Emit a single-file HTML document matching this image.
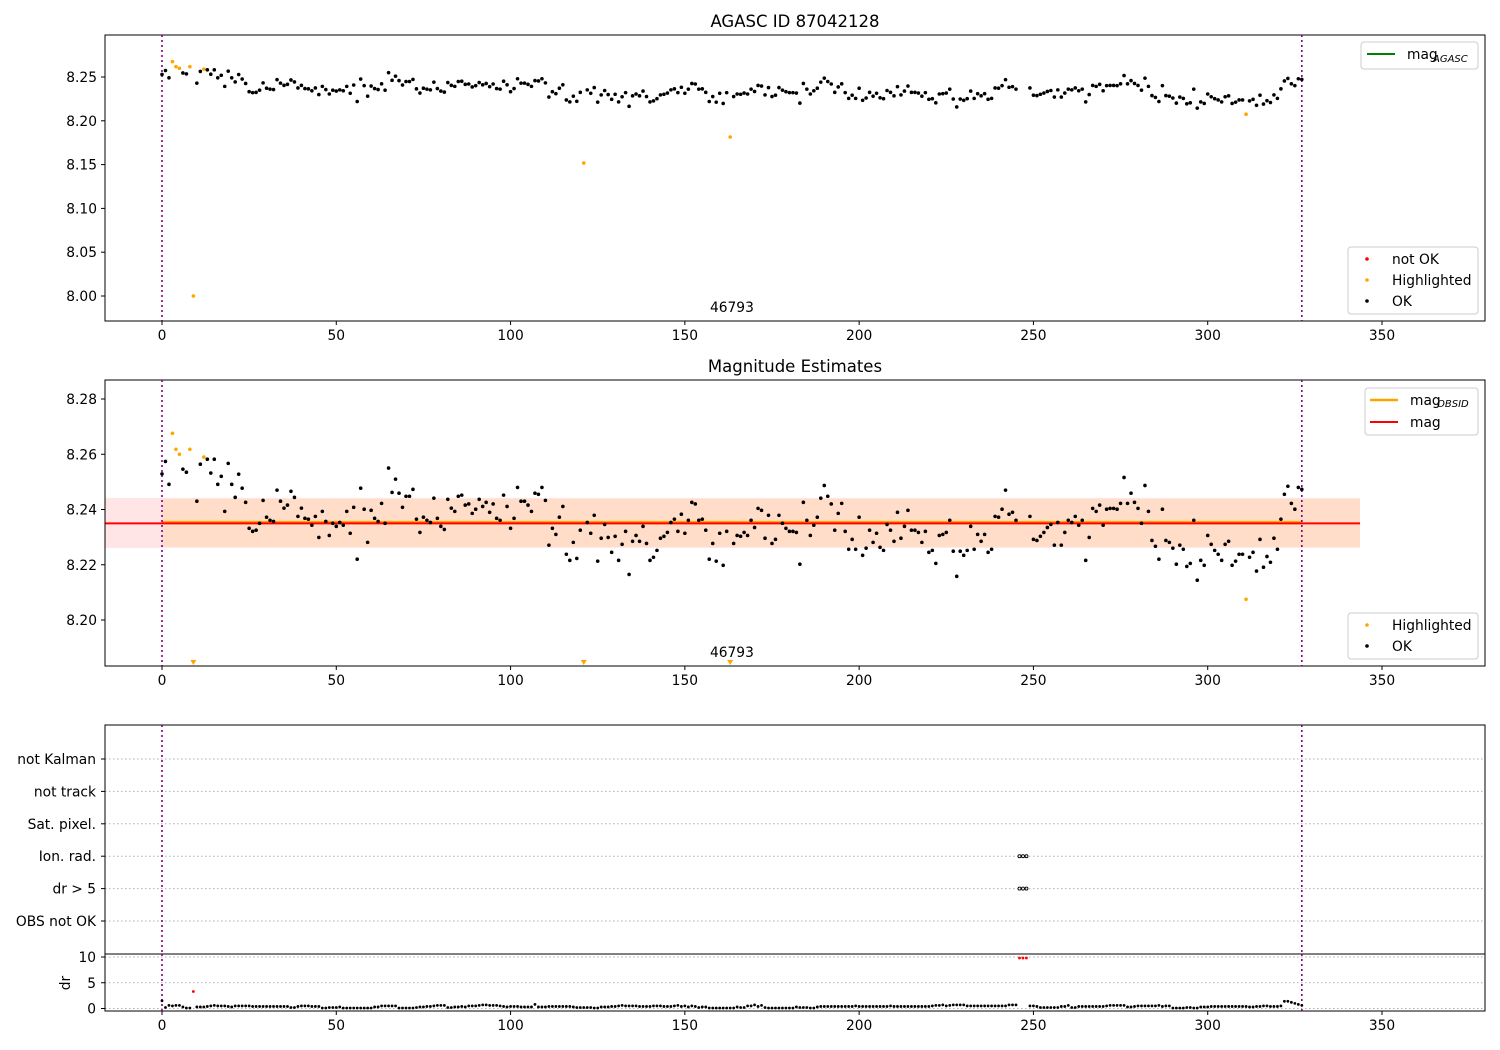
<!DOCTYPE html>
<html><head><meta charset="utf-8">
<style>
html,body{margin:0;padding:0;background:#fff;}
svg{display:block;font-family:"DejaVu Sans","Liberation Sans",sans-serif;}
</style></head>
<body>
<svg id="chart" width="1500" height="1050" xmlns="http://www.w3.org/2000/svg"></svg>
<script>
// ---------- data ----------
const magValues = [
8.2529,8.2574,8.2491,8.2676,8.2618,8.2600,8.2546,8.2535,8.2618,8.000,
8.243,8.2564,8.259,8.2582,8.2532,8.2582,8.2491,8.252,8.2393,8.2567,
8.2491,8.2444,8.2528,8.2477,8.2426,8.2332,8.2321,8.2325,8.235,8.2433,
8.2372,8.2361,8.2357,8.247,8.243,8.2405,8.2416,8.2466,8.2444,8.2375,
8.2405,8.2368,8.2365,8.2343,8.2375,8.2299,8.2393,8.2357,8.2306,8.235,
8.2339,8.2353,8.2343,8.2393,8.2314,8.2408,8.222,8.2477,8.2401,8.2281,
8.2397,8.2368,8.2357,8.2422,8.235,8.255,8.2462,8.251,8.2459,8.2408,
8.2448,8.2448,8.2473,8.2365,8.2317,8.2372,8.2361,8.2353,8.2441,8.2368,
8.2339,8.2328,8.2437,8.2405,8.2393,8.2448,8.2452,8.2416,8.242,8.2386,
8.2401,8.2437,8.2411,8.2426,8.239,8.242,8.2368,8.2361,8.2452,8.2411,
8.2332,8.2368,8.248,8.243,8.243,8.2416,8.2393,8.2459,8.2455,8.248,
8.2433,8.2271,8.2332,8.231,8.2372,8.2411,8.2238,8.2216,8.2281,8.2223,
8.2325,8.1518,8.2353,8.2314,8.2379,8.2213,8.2296,8.2346,8.2299,8.2245,
8.2303,8.2216,8.2274,8.2321,8.2165,8.2285,8.2306,8.2285,8.2339,8.2277,
8.2216,8.2227,8.2252,8.2296,8.2303,8.2317,8.2353,8.2365,8.2321,8.2383,
8.2314,8.2361,8.2426,8.242,8.2361,8.2365,8.2325,8.222,8.2277,8.2213,
8.2314,8.2198,8.2321,8.1815,8.2277,8.2306,8.2303,8.2317,8.2306,8.2361,
8.2335,8.2404,8.2397,8.2296,8.2379,8.2277,8.2292,8.2379,8.235,8.2332,
8.2321,8.2321,8.2317,8.2202,8.2426,8.2361,8.2306,8.2343,8.2372,8.2441,
8.2487,8.2448,8.242,8.2325,8.2386,8.2422,8.2321,8.2256,8.2292,8.2256,
8.2372,8.2234,8.226,8.2325,8.2281,8.2314,8.2263,8.2252,8.2346,8.2325,
8.2285,8.239,8.2296,8.2339,8.2397,8.2325,8.2325,8.2317,8.2281,8.2321,
8.2245,8.2252,8.2205,8.2306,8.231,8.2317,8.2361,8.2249,8.2158,8.2249,
8.2234,8.2252,8.2339,8.2256,8.231,8.2285,8.231,8.2245,8.2256,8.2375,
8.2372,8.2401,8.247,8.2383,8.239,8.2361,null,null,null,8.2375,
8.2292,8.2288,8.2303,8.2317,8.2335,8.2346,8.2271,8.2353,8.2271,8.2317,
8.2361,8.2353,8.2375,8.2343,8.2361,8.2216,8.2299,8.2404,8.2393,8.2416,
8.2343,8.2401,8.2404,8.2404,8.2401,8.2422,8.2516,8.2422,8.2459,8.2426,
8.2404,8.235,8.2487,8.2393,8.2288,8.2267,8.222,8.2401,8.2288,8.2281,
8.226,8.2202,8.2271,8.2256,8.2194,8.2205,8.2361,8.2144,8.2216,8.2198,
8.2306,8.2274,8.2252,8.2238,8.2216,8.2274,8.2285,8.2198,8.2213,8.2238,
8.2238,8.2075,8.2227,8.2245,8.2177,8.2292,8.2191,8.223,8.2209,8.2296,
8.2256,8.2365,8.2455,8.2484,8.2422,8.2401,8.248,8.2473];
const highlightedIdx = [3,4,5,8,9,12,121,163,311];
const notOkIdx = [9,246,247,248];
const drValues = [
1.5,0.2,0.6,0.5,0.6,0.6,0.3,0.1,0.1,3.3,0.3,0.3,0.3,0.4,0.5,0.6,0.5,0.5,0.5,0.4,
0.3,0.5,0.5,0.5,0.5,0.5,0.4,0.4,0.4,0.4,0.4,0.4,0.4,0.4,0.4,0.4,0.4,0.2,0.2,0.4,
0.5,0.5,0.5,0.4,0.4,0.4,0.1,0.1,0.2,0.2,0.2,0.3,0.1,0.1,0.1,0.1,0.1,0.1,0.1,0.1,
0.1,0.3,0.3,0.5,0.5,0.5,0.5,0.5,0.1,0.1,0.1,0.1,0.1,0.2,0.3,0.3,0.4,0.4,0.5,0.6,
0.6,0.6,0.2,0.2,0.3,0.3,0.4,0.3,0.5,0.5,0.5,0.6,0.7,0.7,0.6,0.6,0.6,0.5,0.4,0.3,
0.4,0.4,0.4,0.3,0.3,0.3,0.3,0.8,0.3,0.3,0.3,0.4,0.4,0.4,0.4,0.4,0.4,0.4,0.3,0.2,
0.2,0.2,0.2,0.2,0.1,0.1,0.3,0.3,0.3,0.4,0.4,0.5,0.6,0.5,0.5,0.5,0.5,0.4,0.4,0.4,
0.4,0.5,0.5,0.5,0.4,0.4,0.4,0.5,0.6,0.4,0.5,0.3,0.5,0.4,0.2,0.3,0.3,0.1,0.1,0.1,
0.1,0.1,0.1,0.1,0.1,0.3,0.2,0.2,0.5,0.5,0.7,0.4,0.6,0.2,0.1,0.1,0.1,0.1,0.1,0.1,
0.1,0.1,0.3,0.2,0.2,0.2,0.1,0.1,0.3,0.4,0.4,0.4,0.4,0.4,0.4,0.4,0.4,0.4,0.4,0.5,
0.4,0.4,0.4,0.4,0.4,0.4,0.4,0.4,0.4,0.5,0.4,0.4,0.4,0.4,0.4,0.4,0.4,0.4,0.4,0.4,
0.4,0.5,0.6,0.6,0.7,0.5,0.6,0.7,0.7,0.7,0.7,0.5,0.5,0.5,0.5,0.5,0.5,0.5,0.5,0.5,
0.5,0.5,0.5,0.7,0.7,0.7,9.8,9.8,9.8,0.5,0.5,0.4,0.2,0.2,0.2,0.2,0.2,0.2,0.4,0.4,
0.6,0.2,0.2,0.4,0.4,0.4,0.4,0.4,0.4,0.4,0.4,0.5,0.6,0.6,0.6,0.6,0.6,0.3,0.3,0.4,
0.5,0.5,0.5,0.5,0.5,0.5,0.6,0.4,0.5,0.5,0.1,0.1,0.1,0.1,0.2,0.2,0.1,0.1,0.3,0.3,
0.3,0.4,0.4,0.4,0.4,0.4,0.4,0.4,0.4,0.4,0.4,0.4,0.3,0.3,0.4,0.4,0.5,0.5,0.4,0.4,
0.4,0.5,1.4,1.4,1.2,1.0,0.8,0.6];
const flagRows = ["OBS not OK","dr > 5","Ion. rad.","Sat. pixel.","not track","not Kalman"];
const flaggedIdx = [246,247,248];
const flaggedRowValues = [1,2];
const xTicks = [0,50,100,150,200,250,300,350];
const mag1Ticks = [8.00,8.05,8.10,8.15,8.20,8.25];
const mag2Ticks = [8.20,8.22,8.24,8.26,8.28];
const drTicks = [0,5,10];
const magMean = 8.235, magLo = 8.2261, magHi = 8.2442;
const obsLast = 327;

// ---------- helpers ----------
const NS="http://www.w3.org/2000/svg";
const svg=document.getElementById('chart');
function el(tag,attrs,parent){const e=document.createElementNS(NS,tag);for(const k in attrs)e.setAttribute(k,attrs[k]);(parent||svg).appendChild(e);return e;}
function txt(s,attrs,parent){const e=el('text',attrs,parent);e.textContent=s;return e;}
const L=105,R=1485;
const FS=13.8;
const xmin=-16.35,xmax=379.55;
const X=v=>L+(v-xmin)/(xmax-xmin)*(R-L);
function scale(d0,d1,p0,p1){return v=>p0+(v-d0)/(d1-d0)*(p1-p0);}

function axesFrame(name,top,bottom,yt,ticks,fmt,xlab){
  const g=el('g',{});
  
  
  el('rect',{x:L,y:top,width:R-L,height:bottom-top,fill:'none',stroke:'#000','stroke-width':1},g);
  ticks.forEach(t=>{const y=yt(t);
    el('line',{x1:L-4,x2:L,y1:y,y2:y,stroke:'#000'},g);
    const tl=txt(fmt(t),{x:L-8,y:y+5,'text-anchor':'end','font-size':FS},g);
    
    
  });
  xTicks.forEach(t=>{const x=X(t);
    el('line',{x1:x,x2:x,y1:bottom,y2:bottom+4,stroke:'#000'},g);
    if(xlab){const tl=txt(String(t),{x:x,y:bottom+19,'text-anchor':'middle','font-size':FS},g);
      
      }
  });
  return g;
}
function vlines(top,bottom,g){
  [0,obsLast].forEach(v=>{el('line',{x1:X(v),x2:X(v),y1:top,y2:bottom,stroke:'#800080','stroke-width':1.6,'stroke-dasharray':'2,3'},g);});
}

// ---------- Panel 1 ----------
const p1Top=35,p1Bot=321;
const Y1=scale(8.25,8.00,77,296);
txt('AGASC ID 87042128',{x:795,y:27,'text-anchor':'middle','font-size':16.5});
const g1=axesFrame('panel-agasc',p1Top,p1Bot,Y1,mag1Ticks,t=>t.toFixed(2),true);
const c1=el('g',{});


vlines(p1Top,p1Bot,c1);
magValues.forEach((v,i)=>{ if(v===null) return;
  const hl=highlightedIdx.includes(i);
  const c=el('circle',{cx:X(i),cy:Y1(v),r:1.8,fill:hl?'#ffa500':'#000'},c1);
  
  
});
txt('46793',{x:X(obsLast/2),y:312,'text-anchor':'middle','font-size':FS});

function legendBox(name,x,y,w,h){const g=el('g',{});
  el('rect',{x:x,y:y,width:w,height:h,rx:3,fill:'#fff','fill-opacity':0.85,stroke:'#ccc'},g);return g;}
let lg=legendBox('legend-agasc-line',1361,42,117,27);
el('line',{x1:1367,x2:1395,y1:54,y2:54,stroke:'#008000','stroke-width':2},lg);
txt('mag',{x:1407,y:59,'font-size':FS},lg);
txt('AGASC',{x:1433,y:62,'font-size':10,'font-style':'italic'},lg);
lg=legendBox('legend-agasc-points',1348,247,130,67);
[['not OK','#f00',259],['Highlighted','#ffa500',280],['OK','#000',301]].forEach(([t,c,y])=>{
  el('circle',{cx:1367,cy:y,r:1.8,fill:c},lg);txt(t,{x:1392,y:y+5,'font-size':FS},lg);});

// ---------- Panel 2 ----------
const p2Top=380,p2Bot=666;
const Y2=scale(8.28,8.20,399,620);
txt('Magnitude Estimates',{x:795,y:372,'text-anchor':'middle','font-size':16.5});
const band=el('g',{});


el('rect',{x:L,y:Y2(magHi),width:X(343.7)-L,height:Y2(magLo)-Y2(magHi),fill:'#ff0000','fill-opacity':0.1},band);
el('rect',{x:X(0),y:Y2(magHi)+1,width:X(343.7)-X(0),height:Y2(magLo)-Y2(magHi)-2,fill:'#ffa500','fill-opacity':0.12},band);
el('line',{x1:X(0),x2:X(obsLast),y1:Y2(magMean)-1.5,y2:Y2(magMean)-1.5,stroke:'#ffa500','stroke-width':2},band);
el('line',{x1:L,x2:X(343.7),y1:Y2(magMean),y2:Y2(magMean),stroke:'#f00','stroke-width':2},band);
const g2=axesFrame('panel-mag-estimates',p2Top,p2Bot,Y2,mag2Ticks,t=>t.toFixed(2),true);
const c2=el('g',{});


vlines(p2Top,p2Bot,c2);
const y2min=8.1833;
magValues.forEach((v,i)=>{ if(v===null) return;
  const hl=highlightedIdx.includes(i);
  if(v<y2min){const x=X(i),y=663;
    const t=el('path',{d:`M${x-3},${y-3} L${x+3},${y-3} L${x},${y+2} Z`,fill:'#ffa500'},c2);
    
    
    return;}
  const c=el('circle',{cx:X(i),cy:Y2(v),r:1.8,fill:hl?'#ffa500':'#000'},c2);
  
  
});
txt('46793',{x:X(obsLast/2),y:657,'text-anchor':'middle','font-size':FS});
lg=legendBox('legend-mag-lines',1365,388,113,47);
el('line',{x1:1370,x2:1398,y1:400,y2:400,stroke:'#ffa500','stroke-width':2.5},lg);
txt('mag',{x:1410,y:405,'font-size':FS},lg);
txt('OBSID',{x:1437,y:407,'font-size':10,'font-style':'italic'},lg);
el('line',{x1:1370,x2:1398,y1:422,y2:422,stroke:'#f00','stroke-width':2},lg);
txt('mag',{x:1410,y:427,'font-size':FS},lg);
lg=legendBox('legend-mag-points',1348,613,130,46);
[['Highlighted','#ffa500',625],['OK','#000',646]].forEach(([t,c,y])=>{
  el('circle',{cx:1367,cy:y,r:1.8,fill:c},lg);txt(t,{x:1392,y:y+5,'font-size':FS},lg);});

// ---------- Panel 3 flags ----------
const p3Top=725,p3Bot=954;
const Y3=scale(0,5,921,759);
const g3=el('g',{});


flagRows.forEach((r,k)=>{const y=Y3(k);
  el('line',{x1:L,x2:R,y1:y,y2:y,stroke:'#b0b0b0','stroke-dasharray':'1.5,2.5'},g3);
  el('line',{x1:L-4,x2:L,y1:y,y2:y,stroke:'#000'},g3);
  const t=txt(r,{x:L-9,y:y+5,'text-anchor':'end','font-size':FS},g3);
  
  
});
el('rect',{x:L,y:p3Top,width:R-L,height:p3Bot-p3Top,fill:'none',stroke:'#000'},g3);
vlines(p3Top,p3Bot,g3);
flaggedRowValues.forEach(row=>{flaggedIdx.forEach(i=>{
  const c=el('circle',{cx:X(i),cy:Y3(row),r:1.5,fill:'none',stroke:'#000','stroke-width':0.9},g3);
  
  
});});

// ---------- dr panel ----------
const drTop=954,drBot=1011;
const YD=scale(0,10,1008.5,957);
const gd=el('g',{});


drTicks.forEach(t=>{const y=YD(t);
  el('line',{x1:L,x2:R,y1:y,y2:y,stroke:'#b0b0b0','stroke-dasharray':'1.5,2.5'},gd);
  el('line',{x1:L-4,x2:L,y1:y,y2:y,stroke:'#000'},gd);
  txt(String(t),{x:L-9,y:y+5,'text-anchor':'end','font-size':FS},gd);
});
el('rect',{x:L,y:drTop,width:R-L,height:drBot-drTop,fill:'none',stroke:'#000'},gd);
const yl=txt('dr',{x:0,y:0,'text-anchor':'middle','font-size':FS,transform:`translate(70,983) rotate(-90)`},gd);

xTicks.forEach(t=>{const x=X(t);
  el('line',{x1:x,x2:x,y1:drBot,y2:drBot+4,stroke:'#000'},gd);
  txt(String(t),{x:x,y:drBot+19,'text-anchor':'middle','font-size':FS},gd);
});
vlines(drTop,drBot,gd);
drValues.forEach((v,i)=>{
  const bad=notOkIdx.includes(i);
  const c=el('circle',{cx:X(i),cy:YD(v),r:1.4,fill:bad?'#f00':'#000'},gd);
  
  
});
</script>
</body></html>
